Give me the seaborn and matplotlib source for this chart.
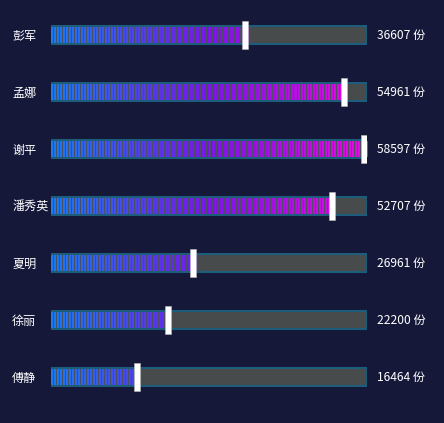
import numpy as np
import pandas as pd
import matplotlib.pyplot as plt
from matplotlib.colors import LinearSegmentedColormap
import seaborn as sns

names = ["彭军", "孟娜", "谢平", "潘秀英", "夏明", "徐丽", "傅静"]
values = [36607, 54961, 58597, 52707, 26961, 22200, 16464]
unit = "份"
max_value = max(values)

bg = "#151839"
track_color = "#474b4b"
border_color = "#1d5d7c"

df = pd.DataFrame({"name": names, "value": values, "max": [max_value] * len(names)})

sns.set_theme(style="white")
plt.rcParams['font.family'] = ['Noto Sans CJK SC', 'DejaVu Sans']

fig = plt.figure(figsize=(4.44, 4.23), dpi=100, facecolor=bg)
ax = fig.add_axes([51 / 444, 0.0414, 316 / 444, 0.9432])
ax.set_facecolor(bg)

# background track
sns.barplot(data=df, x="max", y="name", orient="h", color=track_color,
            edgecolor=border_color, linewidth=1.5, width=0.33, ax=ax, zorder=1)
# fill bars (used as clip paths)
sns.barplot(data=df, x="value", y="name", orient="h", color="none",
            linewidth=0, width=0.27, ax=ax, zorder=2)

# gradient with stripes, one column per pixel (period 3px)
cmap = LinearSegmentedColormap.from_list("g", ["#1a7cf0", "#7a14e8", "#e80ee0"])
ncol = 316
cols = np.arange(ncol)
rgb = cmap(cols / (ncol - 1))
stripe = (cols % 3) < 2
rgb[~stripe] = np.array([0.30, 0.31, 0.38, 1.0])
img = rgb[np.newaxis, :, :]

bar_patches = ax.patches[len(names):]
for p in bar_patches:
    y0 = p.get_y()
    h = p.get_height()
    im = ax.imshow(img, extent=[0, max_value, y0 + h, y0], aspect="auto",
                   interpolation="nearest", zorder=3)
    im.set_clip_path(p)

# white markers, right edge at the value
marker_w = max_value * 6 / 316
ax.barh(np.arange(len(names)), marker_w, left=np.array(values) - marker_w, height=0.5,
        color="white", edgecolor="#bbbbbb", linewidth=0.4, zorder=4)

for i, v in enumerate(values):
    ax.annotate(f"{v} {unit}", xy=(1.0, i), xycoords=("axes fraction", "data"),
                xytext=(7.5, 0), textcoords="offset points", va="center", ha="left",
                color="white", fontsize=8.7)

ax.set_xlim(0, max_value)
ax.set_ylim(len(names) - 0.5, -0.5)
ax.set_xlabel("")
ax.set_ylabel("")
ax.set_xticks([])
ax.set_yticks(range(len(names)))
ax.set_yticklabels(names, ha="left", color="white", fontsize=8.7)
ax.tick_params(axis="y", length=0, pad=28)
sns.despine(ax=ax, left=True, bottom=True)

fig.savefig("out.png", dpi=100, facecolor=bg)
